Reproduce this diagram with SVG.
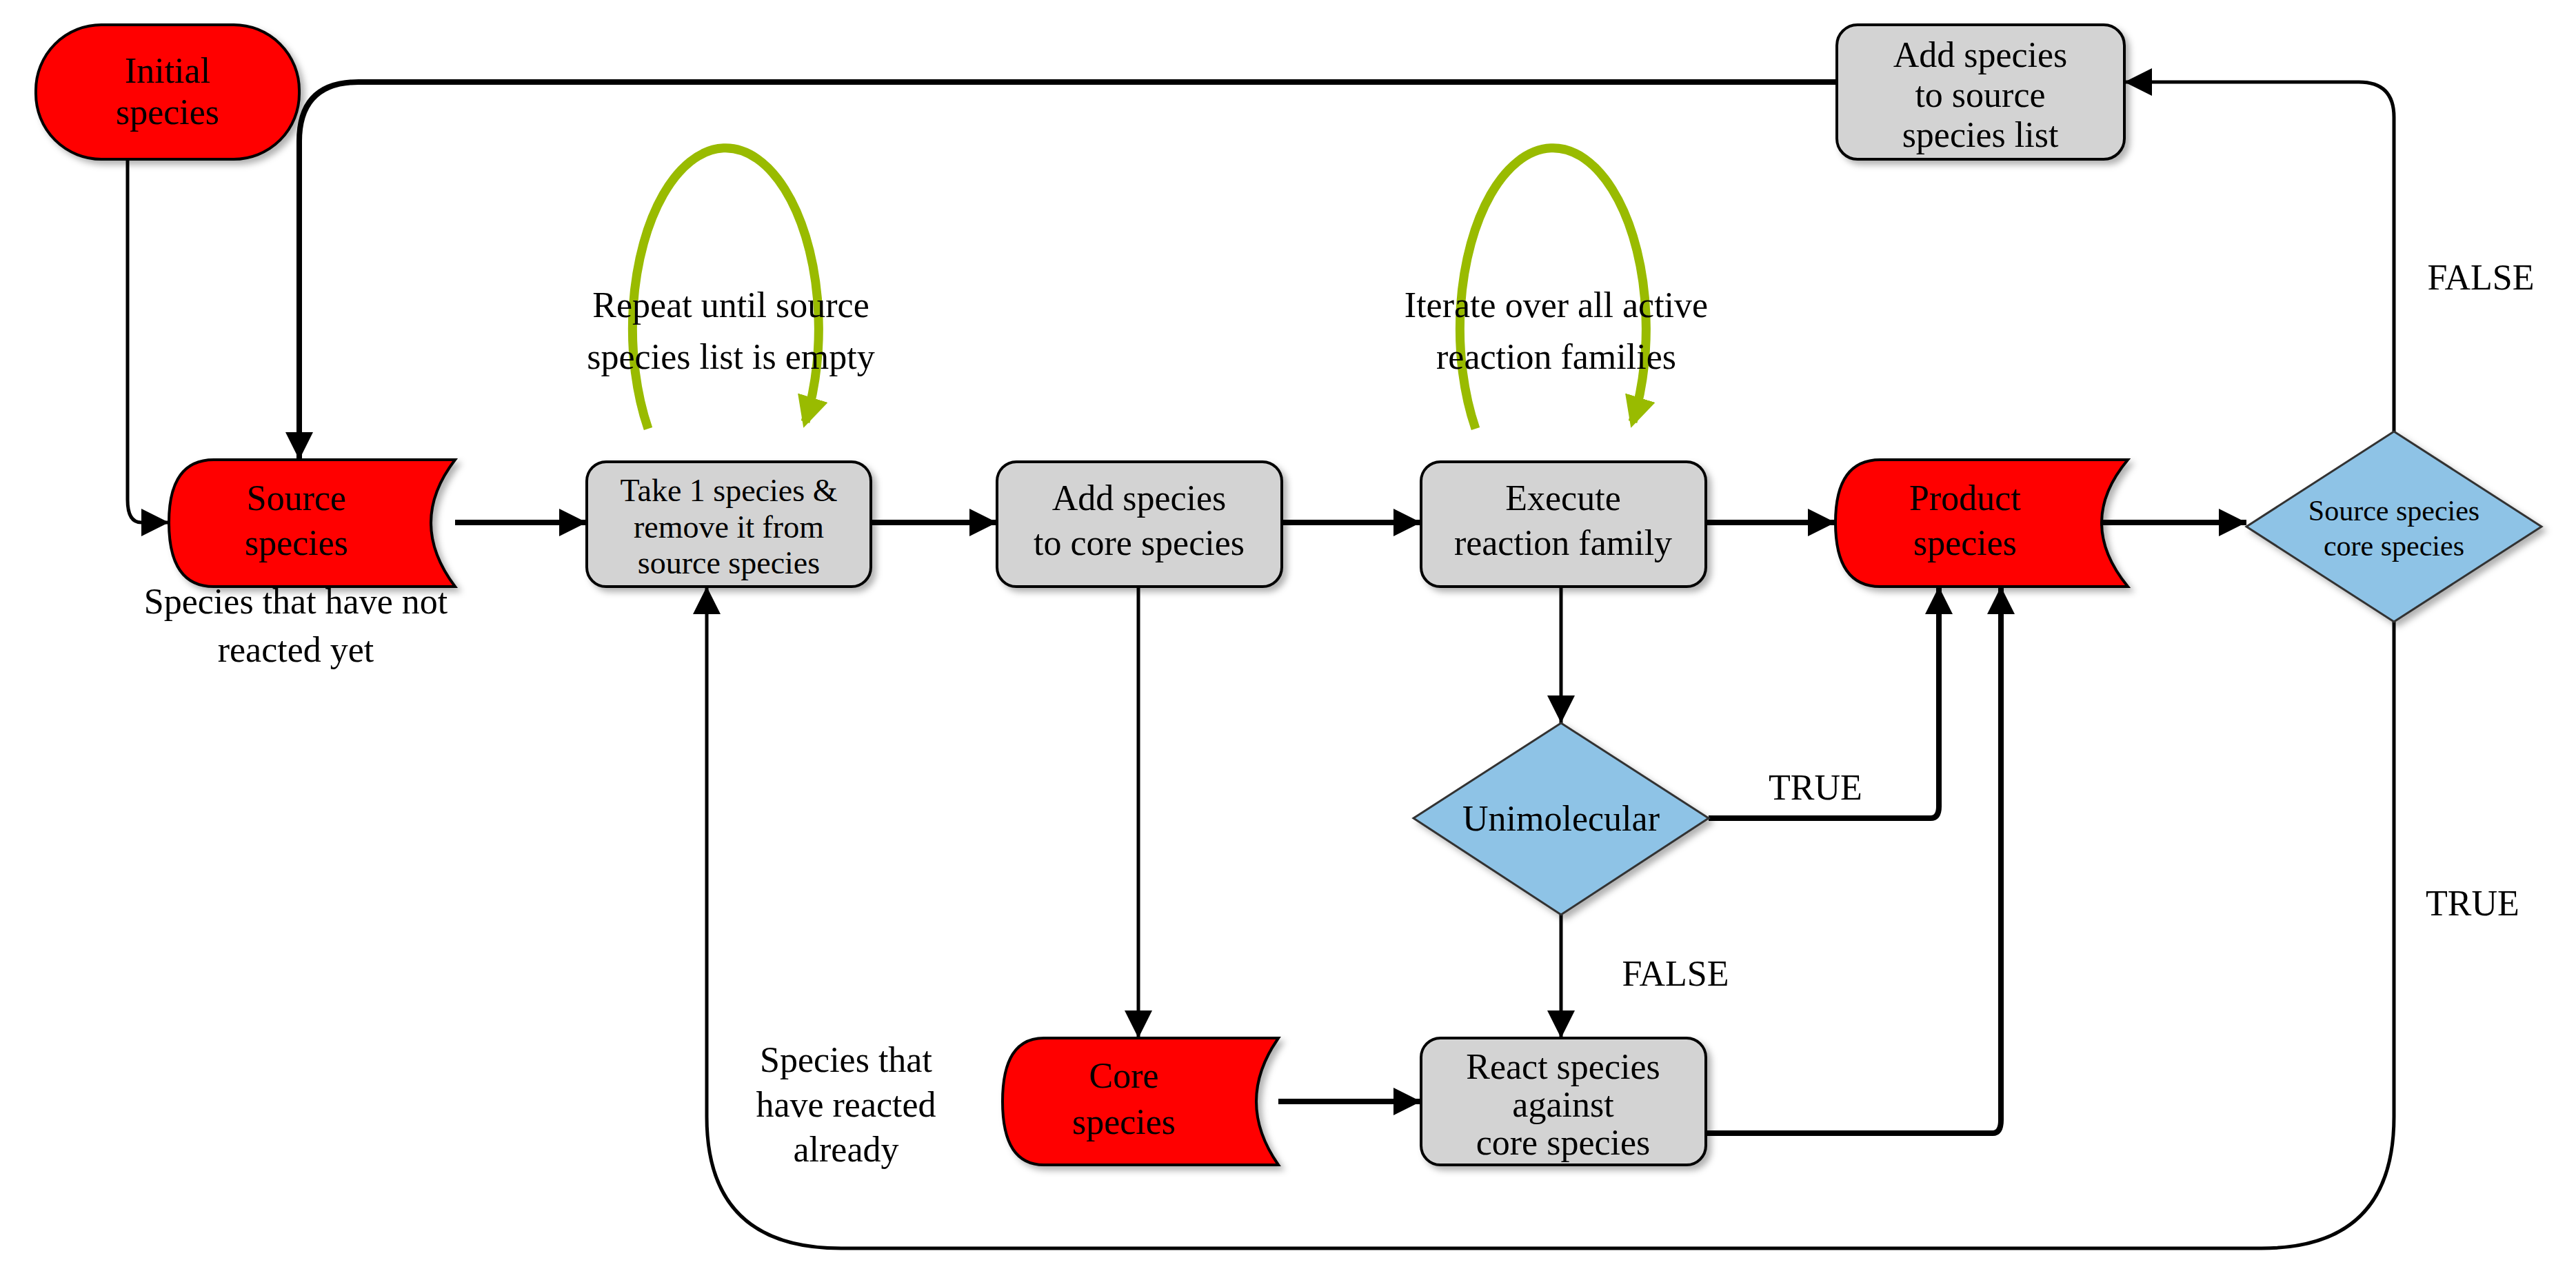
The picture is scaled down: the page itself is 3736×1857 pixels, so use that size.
<svg xmlns="http://www.w3.org/2000/svg" width="3736" height="1857" viewBox="0 0 3736 1857">
<defs>
<marker id="ah" viewBox="0 0 10 10" refX="10" refY="5" markerWidth="5" markerHeight="5" markerUnits="strokeWidth" orient="auto"><path d="M0,0 L10,5 L0,10 z" fill="#000"/></marker>
<marker id="ah2" viewBox="0 0 10 10" refX="10" refY="5" markerWidth="8" markerHeight="8" markerUnits="strokeWidth" orient="auto"><path d="M0,0 L10,5 L0,10 z" fill="#000"/></marker>
<marker id="gh" viewBox="0 0 10 10" refX="8" refY="5" markerWidth="3.5" markerHeight="3.5" markerUnits="strokeWidth" orient="auto"><path d="M0,0 L10,5 L0,10 z" fill="#99bb00"/></marker>
<filter id="sh" x="-10%" y="-10%" width="130%" height="130%"><feDropShadow dx="6" dy="6" stdDeviation="5" flood-opacity="0.3"/></filter>
</defs>
<style>
text{font-family:"Liberation Serif",serif;font-size:52px;fill:#000;text-anchor:middle}
.sm{font-size:42px}
.red{fill:#ff0000;stroke:#000;stroke-width:4;filter:url(#sh)}
.gray{fill:#d3d3d3;stroke:#000;stroke-width:4;filter:url(#sh)}
.blue{fill:#8ec3e6;stroke:#333;stroke-width:3;filter:url(#sh)}
.c{fill:none;stroke:#000;stroke-width:8}
.t{fill:none;stroke:#000;stroke-width:5}
.g{fill:none;stroke:#99bb00;stroke-width:13}
</style>
<rect width="3736" height="1857" fill="#fff"/>
<g id="connectors">
<path class="t" d="M185,231 V725 Q185,758 205,758 H245" marker-end="url(#ah2)"/>
<path class="c" d="M2664,119 H520 Q434,119 434,205 V667" marker-end="url(#ah)"/>
<path class="c" d="M660,758 H851" marker-end="url(#ah)"/>
<path class="c" d="M1263,758 H1446" marker-end="url(#ah)"/>
<path class="c" d="M1859,758 H2061" marker-end="url(#ah)"/>
<path class="c" d="M2474,758 H2662" marker-end="url(#ah)"/>
<path class="c" d="M3030,758 H3258" marker-end="url(#ah)"/>
<path class="t" d="M3472,626 V170 Q3472,119 3421,119 H3081" marker-end="url(#ah2)"/>
<path class="t" d="M1651,851 V1506" marker-end="url(#ah2)"/>
<path class="t" d="M2264,851 V1049" marker-end="url(#ah2)"/>
<path class="t" d="M2264,1327 V1506" marker-end="url(#ah2)"/>
<path class="c" d="M2478,1187 H2800 Q2812,1187 2812,1170 V851" marker-end="url(#ah)"/>
<path class="c" d="M2474,1644 H2890 Q2902,1644 2902,1625 V851" marker-end="url(#ah)"/>
<path class="c" d="M1854,1598 H2061" marker-end="url(#ah)"/>
<path class="t" d="M3472,902 V1620 Q3472,1811 3280,1811 H1220 Q1025,1811 1025,1620 V851" marker-end="url(#ah2)"/>
<path class="g" d="M940,622 A135,262 0 1 1 1168,612" marker-end="url(#gh)"/>
<path class="g" d="M2140,622 A135,262 0 1 1 2368,612" marker-end="url(#gh)"/>
</g>
<g id="initial"><rect class="red" x="52" y="36" width="382" height="195" rx="95"/><text x="243" y="120">Initial</text><text x="243" y="180">species</text></g>
<g id="addsource"><rect class="gray" x="2664" y="36" width="417" height="195" rx="30"/><text x="2872" y="97">Add species</text><text x="2872" y="155">to source</text><text x="2872" y="213">species list</text></g>
<g id="source"><path class="red" d="M310,667 H660 Q590,758 660,851 H310 Q245,851 245,758 Q245,667 310,667 z"/><text x="430" y="740">Source</text><text x="430" y="805">species</text></g>
<g id="take"><rect class="gray" x="851" y="670" width="412" height="181" rx="28"/><text x="1057" y="727" style="font-size:46px">Take 1 species &amp;</text><text x="1057" y="780" style="font-size:46px">remove it from</text><text x="1057" y="832" style="font-size:46px">source species</text></g>
<g id="addcore"><rect class="gray" x="1446" y="670" width="413" height="181" rx="28"/><text x="1652" y="740">Add species</text><text x="1652" y="805">to core species</text></g>
<g id="execute"><rect class="gray" x="2061" y="670" width="413" height="181" rx="28"/><text x="2267" y="740">Execute</text><text x="2267" y="805">reaction family</text></g>
<g id="product"><path class="red" d="M2727,667 H3086 Q3010,758 3086,851 H2727 Q2662,851 2662,758 Q2662,667 2727,667 z"/><text x="2850" y="740">Product</text><text x="2850" y="805">species</text></g>
<g id="check"><polygon class="blue" points="3472,626 3686,764 3472,902 3258,764"/><text class="sm" x="3472" y="755">Source species</text><text class="sm" x="3472" y="806">core species</text></g>
<g id="unimolecular"><polygon class="blue" points="2264,1049 2478,1187 2264,1327 2050,1187"/><text x="2264" y="1205">Unimolecular</text></g>
<g id="core"><path class="red" d="M1514,1506 H1854 Q1790,1598 1854,1690 H1514 Q1454,1690 1454,1598 Q1454,1506 1514,1506 z"/><text x="1630" y="1578">Core</text><text x="1630" y="1645">species</text></g>
<g id="react"><rect class="gray" x="2061" y="1506" width="413" height="184" rx="28"/><text x="2267" y="1565">React species</text><text x="2267" y="1620">against</text><text x="2267" y="1675">core species</text></g>
<g id="labels">
<text x="1060" y="460">Repeat until source</text><text x="1060" y="535">species list is empty</text>
<text x="2257" y="460">Iterate over all active</text><text x="2257" y="535">reaction families</text>
<text x="429" y="890">Species that have not</text><text x="429" y="960">reacted yet</text>
<text x="1227" y="1555">Species that</text><text x="1227" y="1620">have reacted</text><text x="1227" y="1685">already</text>
<text x="3598" y="420">FALSE</text>
<text x="2633" y="1160">TRUE</text>
<text x="2430" y="1430">FALSE</text>
<text x="3586" y="1328">TRUE</text>
</g>
</svg>
